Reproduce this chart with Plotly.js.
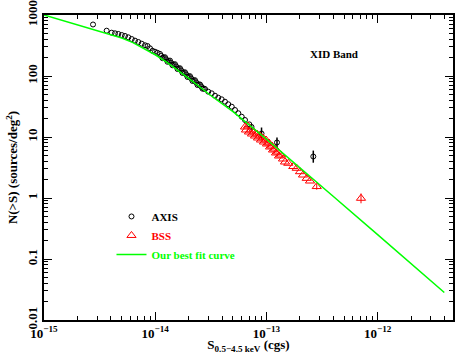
<!DOCTYPE html>
<html>
<head>
<meta charset="utf-8">
<script src="https://cdn.plot.ly/plotly-3.0.1.min.js"></script>
<style>
  html, body { margin: 0; padding: 0; background: #fff; }
  #chart { width: 457px; height: 354px; }
</style>
</head>
<body>
<div id="chart"></div>
<script>
// AXIS sources (flux in cgs, N(>S) in sources/deg^2)
const axisS = [2.76e-15, 3.66e-15, 4.06e-15, 4.35e-15, 4.66e-15, 5.00e-15, 5.35e-15, 5.73e-15,
  6.15e-15, 6.58e-15, 7.05e-15, 7.56e-15, 8.10e-15, 8.53e-15, 8.98e-15, 9.46e-15, 9.96e-15,
  1.049e-14, 1.105e-14, 1.163e-14, 1.225e-14, 1.290e-14, 1.358e-14, 1.430e-14, 1.507e-14,
  1.587e-14, 1.671e-14, 1.760e-14, 1.854e-14, 1.952e-14, 2.056e-14, 2.165e-14, 2.280e-14,
  2.401e-14, 2.529e-14, 2.663e-14, 2.805e-14, 3.00e-14, 3.22e-14, 3.45e-14, 3.69e-14,
  3.96e-14, 4.24e-14, 4.54e-14, 4.88e-14, 5.22e-14, 5.59e-14, 6.00e-14, 6.42e-14, 7.02e-14,
  1.134e-14, 1.194e-14, 1.257e-14, 1.324e-14, 1.394e-14, 1.468e-14, 1.546e-14, 1.628e-14,
  1.715e-14, 1.806e-14, 1.902e-14, 2.003e-14, 2.110e-14, 2.222e-14, 2.340e-14, 2.464e-14,
  2.595e-14, 2.733e-14];
const axisN = [699, 553, 513, 501, 489, 470, 453, 431,
  404, 380, 361, 339, 319, 310, 284, 259, 250,
  240, 230, 196, 203, 171, 179, 150, 156,
  130, 134, 112, 115, 96.3, 99.3, 82.8, 85.3,
  71.1, 72.6, 61.9, 61.2, 55.3, 52.0, 47.5, 44.1,
  41.5, 37.9, 34.4, 31.4, 27.7, 24.5, 21.5, 19.0, 16.1,
  213.5, 200.3, 187.2, 175.5, 164.0, 153.8, 143.1, 132.7,
  123.1, 114.1, 105.8, 98.1, 91.0, 84.4, 78.2, 72.6,
  67.3, 62.4];

// AXIS brightest points with error bars
const axisErrS = [7.35e-14, 9.04e-14, 1.245e-13, 2.64e-13];
const axisErrN = [14.6, 11.4, 8.13, 4.79];
const axisErrUp = [1.2, 2.9, 1.7, 1.2];
const axisErrDn = [1.1, 2.3, 1.5, 1.0];

// BSS sources
const bssS = [6.42e-14, 6.55e-14, 6.83e-14, 6.97e-14, 7.27e-14, 7.42e-14, 7.74e-14, 7.90e-14,
  8.23e-14, 8.40e-14, 8.76e-14, 8.94e-14, 9.32e-14, 9.51e-14, 9.92e-14, 1.013e-13,
  1.055e-13, 1.078e-13, 1.123e-13, 1.147e-13, 1.195e-13, 1.220e-13, 1.272e-13, 1.298e-13,
  1.353e-13, 1.410e-13, 1.470e-13, 1.573e-13, 1.745e-13, 1.873e-13, 2.005e-13, 2.134e-13,
  2.304e-13, 2.467e-13];
const bssN = [14.58, 13.03, 15.15, 12.08, 13.03, 11.20, 12.08, 10.38,
  11.20, 9.63, 10.38, 8.93, 9.63, 8.28, 8.93, 7.68,
  7.97, 6.86, 7.12, 6.12, 6.36, 5.47, 5.68, 4.88,
  5.07, 4.36, 3.89, 3.71, 3.28, 3.07, 2.70, 2.38,
  2.10, 1.90];
const bssErrS = [2.835e-13, 7.09e-13];
const bssErrN = [1.54, 0.989];
const bssErrUp = [0.2, 0.2];
const bssErrDn = [0.17, 0.17];

// best fit curve
const fitS = [1e-15, 2.51e-15, 3.55e-15, 5.01e-15, 6.31e-15, 7.94e-15, 1.0e-14, 1.259e-14,
  1.585e-14, 2.0e-14, 3.16e-14, 5.01e-14, 1.0e-13, 2.0e-13, 3.98e-13, 1.0e-12, 2.0e-12, 3.98e-12];
const fitN = [1000, 615, 513, 420, 352, 284, 223, 170,
  125, 91.6, 47.9, 26.0, 9.23, 3.16, 1.07, 0.251, 0.0841, 0.0282];

const xMajor = [1e-15, 1e-14, 1e-13, 1e-12];
const xMajorText = ['10<sup>\u221215</sup>', '10<sup>\u221214</sup>', '10<sup>\u221213</sup>', '10<sup>\u221212</sup>'];
const yMajor = [0.01, 0.1, 1, 10, 100, 1000];
const yMajorText = ['0.01', '0.1', '1', '10', '100', '1000'];

const xMinor = [];
for (let e = -15; e <= -12; e++) {
  for (let m = 2; m <= 9; m++) {
    const v = m * Math.pow(10, e);
    if (v < 4.8e-12) xMinor.push(v);
  }
}
const yMinor = [];
for (let e = -2; e <= 2; e++) {
  for (let m = 2; m <= 9; m++) yMinor.push(m * Math.pow(10, e));
}

const serif = 'Liberation Serif, Times New Roman, serif';

const traces = [
  {
    x: axisS, y: axisN, type: 'scatter', mode: 'markers',
    name: 'AXIS',
    marker: { symbol: 'circle-open', size: 5, color: '#000', line: { width: 1, color: '#000' } }
  },
  {
    x: axisErrS, y: axisErrN, type: 'scatter', mode: 'markers', showlegend: false,
    marker: { symbol: 'circle-open', size: 5, color: '#000', line: { width: 1, color: '#000' } },
    error_y: { type: 'data', array: axisErrUp, arrayminus: axisErrDn, color: '#000', thickness: 1.5, width: 0 }
  },
  {
    x: bssS, y: bssN, type: 'scatter', mode: 'markers',
    name: '<span style="color:#ff0000">BSS</span>',
    marker: { symbol: 'triangle-up-open', size: 8, color: '#ff0000', line: { width: 1, color: '#ff0000' } }
  },
  {
    x: bssErrS, y: bssErrN, type: 'scatter', mode: 'markers', showlegend: false,
    marker: { symbol: 'triangle-up-open', size: 8, color: '#ff0000', line: { width: 1, color: '#ff0000' } },
    error_y: { type: 'data', array: bssErrUp, arrayminus: bssErrDn, color: '#ff0000', thickness: 1, width: 0 }
  },
  {
    x: fitS, y: fitN, type: 'scatter', mode: 'lines',
    name: '<span style="color:#00ff00">Our best fit curve</span>',
    line: { color: '#00ff00', width: 1.5 }
  }
];

const axisCommon = {
  type: 'log',
  showgrid: false,
  zeroline: false,
  showline: true,
  linecolor: '#000',
  linewidth: 2,
  mirror: 'allticks',
  ticks: 'inside',
  ticklen: 8,
  tickwidth: 1,
  tickcolor: '#000',
  tickmode: 'array',
  tickfont: { family: serif, size: 13, color: '#000', weight: 700 }
};

const layout = {
  width: 457,
  height: 354,
  margin: { l: 44, r: 4, t: 15, b: 34 },
  paper_bgcolor: '#fff',
  plot_bgcolor: '#fff',
  font: { family: serif, color: '#000' },
  xaxis: Object.assign({}, axisCommon, {
    range: [-15, -11.322],
    tickvals: xMajor,
    ticktext: xMajorText,
    minor: { tickmode: 'array', tickvals: xMinor, ticks: 'inside', ticklen: 4, tickcolor: '#000', showgrid: false },
    title: {
      text: 'S<sub>0.5\u22124.5 keV</sub> (cgs)',
      font: { family: serif, size: 13, weight: 700 },
      standoff: 6
    }
  }),
  yaxis: Object.assign({}, axisCommon, {
    range: [-2, 3],
    tickvals: yMajor,
    ticktext: yMajorText,
    tickangle: -90,
    minor: { tickmode: 'array', tickvals: yMinor, ticks: 'inside', ticklen: 4, tickcolor: '#000', showgrid: false },
    title: {
      text: 'N(>S) (sources/deg<sup>2</sup>)',
      font: { family: serif, size: 13, weight: 700 },
      standoff: 4
    }
  }),
  showlegend: true,
  legend: {
    x: 0.165, y: 0.387, xanchor: 'left', yanchor: 'top',
    bgcolor: 'rgba(0,0,0,0)',
    font: { family: serif, size: 11, color: '#000', weight: 700 },
    itemwidth: 30,
    tracegroupgap: 0
  },
  annotations: [
    {
      xref: 'paper', yref: 'paper', x: 0.773, y: 0.898,
      text: 'XID Band', showarrow: false,
      font: { family: serif, size: 11, color: '#000', weight: 700 }
    }
  ]
};

Plotly.newPlot('chart', traces, layout, { displayModeBar: false, staticPlot: true });
</script>
</body>
</html>
